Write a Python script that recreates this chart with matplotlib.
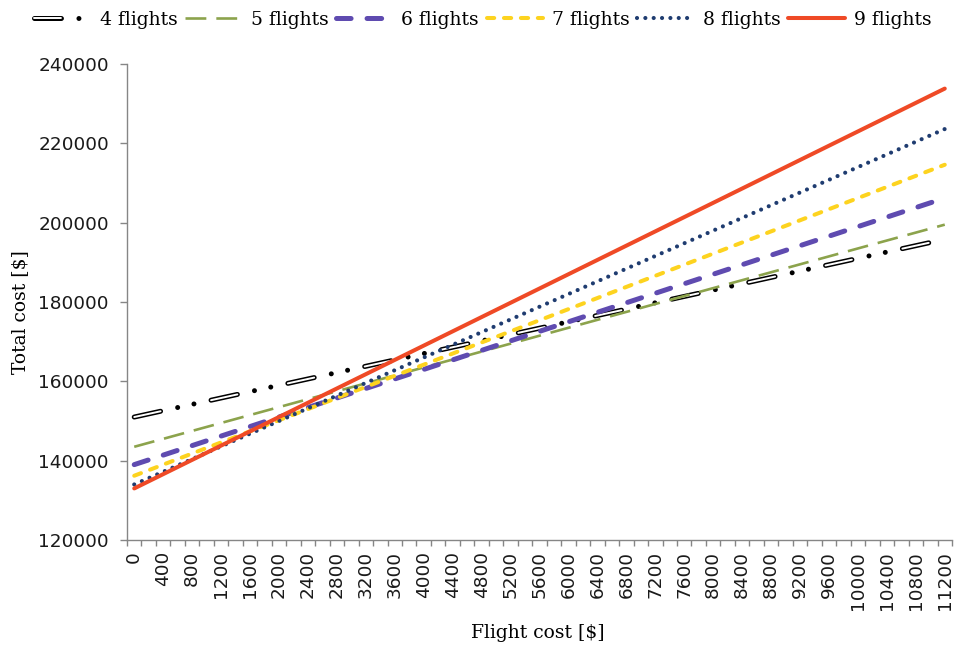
import matplotlib
matplotlib.use("Agg")
import matplotlib.pyplot as plt
from matplotlib.legend_handler import HandlerTuple

plt.rcParams['lines.scale_dashes'] = False

flight_cost = [0, 400, 800, 1200, 1600, 2000, 2400, 2800, 3200, 3600, 4000, 4400,
               4800, 5200, 5600, 6000, 6400, 6800, 7200, 7600, 8000, 8400, 8800,
               9200, 9600, 10000, 10400, 10800, 11200]

f4 = [151000, 152600, 154200, 155800, 157400, 159000, 160600, 162200, 163800, 165400,
      167000, 168600, 170200, 171800, 173400, 175000, 176600, 178200, 179800, 181400,
      183000, 184600, 186200, 187800, 189400, 191000, 192600, 194200, 195800]
f5 = [143500, 145500, 147500, 149500, 151500, 153500, 155500, 157500, 159500, 161500,
      163500, 165500, 167500, 169500, 171500, 173500, 175500, 177500, 179500, 181500,
      183500, 185500, 187500, 189500, 191500, 193500, 195500, 197500, 199500]
f6 = [139000, 141400, 143800, 146200, 148600, 151000, 153400, 155800, 158200, 160600,
      163000, 165400, 167800, 170200, 172600, 175000, 177400, 179800, 182200, 184600,
      187000, 189400, 191800, 194200, 196600, 199000, 201400, 203800, 206200]
f7 = [136200, 139000, 141800, 144600, 147400, 150200, 153000, 155800, 158600, 161400,
      164200, 167000, 169800, 172600, 175400, 178200, 181000, 183800, 186600, 189400,
      192200, 195000, 197800, 200600, 203400, 206200, 209000, 211800, 214600]
f8 = [134000, 137200, 140400, 143600, 146800, 150000, 153200, 156400, 159600, 162800,
      166000, 169200, 172400, 175600, 178800, 182000, 185200, 188400, 191600, 194800,
      198000, 201200, 204400, 207600, 210800, 214000, 217200, 220400, 223600]
f9 = [133000, 136600, 140200, 143800, 147400, 151000, 154600, 158200, 161800, 165400,
      169000, 172600, 176200, 179800, 183400, 187000, 190600, 194200, 197800, 201400,
      205000, 208600, 212200, 215800, 219400, 223000, 226600, 230200, 233800]

series_labels = ["4 flights", "5 flights", "6 flights", "7 flights", "8 flights", "9 flights"]
y_ticks = [120000, 140000, 160000, 180000, 200000, 220000, 240000]

fig = plt.figure(figsize=(9.57, 6.47), dpi=100)
ax = fig.add_axes([127/957, 1-540/647, 825/957, 476/647])

# 4 flights: outlined (double) dash followed by two round dots
lw4 = 3.6
dash4 = 23 - lw4
per = [dash4, 10.8 + lw4 / 2, 0.01, 12.0, 0.01, 10.8 + lw4 / 2]
total = sum(per)
l4a, = ax.plot(flight_cost, f4, color='black', lw=lw4,
               linestyle=(0, per), dash_capstyle='round')
l4b, = ax.plot(flight_cost, f4, color='white', lw=1.4,
               linestyle=(0, (dash4, total - dash4)), dash_capstyle='round')

l5, = ax.plot(flight_cost, f5, color='#8CA34C', lw=1.9, linestyle=(0, (15, 7.2)),
              dash_capstyle='butt')
l6, = ax.plot(flight_cost, f6, color='#5F4BB0', lw=3.6, linestyle=(0, (10.5, 11.5)),
              dash_capstyle='round')
l7, = ax.plot(flight_cost, f7, color='#FDD31F', lw=2.9, linestyle=(0, (5.2, 7.0)),
              dash_capstyle='round')
l8, = ax.plot(flight_cost, f8, color='#1F3C70', lw=3.0, linestyle=(0, (0.01, 6.0)),
              dash_capstyle='round')
l9, = ax.plot(flight_cost, f9, color='#EF4A26', lw=2.9, solid_capstyle='round')

ax.set_xlim(-100, 11300)
ax.set_ylim(120000, 240000)

for s in ['top', 'right']:
    ax.spines[s].set_visible(False)
for s in ['left', 'bottom']:
    ax.spines[s].set_color('#868686')
    ax.spines[s].set_linewidth(1.0)

ax.set_yticks(y_ticks)
ax.set_yticklabels([str(v) for v in y_ticks])
ax.tick_params(axis='y', direction='out', length=5, width=1.0, color='#868686',
               pad=8, labelsize=13.3, labelcolor='#1a1a1a')

ax.set_xticks(flight_cost)
ax.set_xticklabels([str(v) for v in flight_cost], rotation=90, va='top', ha='center')
ax.set_xticks([-100 + 200 * k for k in range(58)], minor=True)
ax.tick_params(axis='x', which='major', length=0, pad=8, labelsize=13.3,
               labelcolor='#1a1a1a')
ax.tick_params(axis='x', which='minor', direction='out', length=4, width=1.0,
               color='#868686')

for lab in ax.get_xticklabels() + ax.get_yticklabels():
    lab.set_family('DejaVu Sans')

fig.text(538/957, 1-633/647, "Flight cost [$]", ha='center', va='center',
         family='DejaVu Serif', fontsize=13.5)
fig.text(20/957, 1-312/647, "Total cost [$]", ha='center', va='center', rotation=90,
         family='DejaVu Serif', fontsize=13.5)

handles = [(l4a, l4b), l5, l6, l7, l8, l9]
leg = fig.legend(handles, series_labels, loc='center', bbox_to_anchor=(0.5045, 1-20/647),
                 ncol=6, frameon=False, handlelength=3.0, handletextpad=0.5,
                 columnspacing=0.4, borderpad=0.0,
                 prop={'family': 'DejaVu Serif', 'size': 13.5},
                 handler_map={tuple: HandlerTuple(ndivide=1)})

fig.savefig("out.png", dpi=100)
